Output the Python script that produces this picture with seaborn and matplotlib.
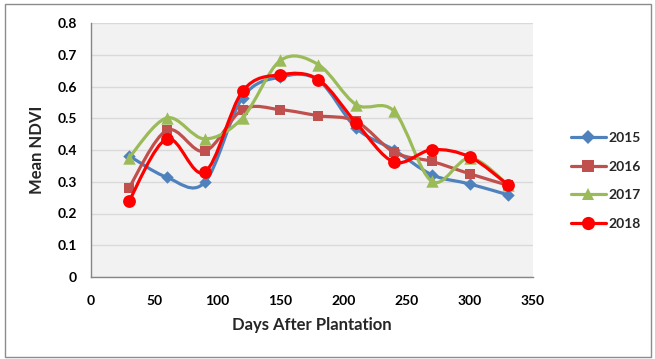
import numpy as np
import pandas as pd
import matplotlib
matplotlib.use("Agg")
import matplotlib.pyplot as plt
import seaborn as sns
from matplotlib.path import Path
from matplotlib.patches import PathPatch, Rectangle
from matplotlib.lines import Line2D

# ---- data ----
days = [30, 60, 90, 120, 150, 180, 210, 240, 270, 300, 330]
ndvi_2015 = [0.382, 0.314, 0.298, 0.565, 0.630, 0.620, 0.469, 0.400, 0.322, 0.293, 0.259]
ndvi_2016 = [0.280, 0.462, 0.396, 0.527, 0.527, 0.508, 0.490, 0.393, 0.364, 0.325, 0.289]
ndvi_2017 = [0.375, 0.501, 0.435, 0.501, 0.682, 0.669, 0.543, 0.522, 0.301, 0.375, 0.291]
ndvi_2018 = [0.238, 0.435, 0.330, 0.585, 0.637, 0.622, 0.485, 0.362, 0.401, 0.378, 0.291]
years = ["2015", "2016", "2017", "2018"]
xticks = [0, 50, 100, 150, 200, 250, 300, 350]
yticks = [0, 0.1, 0.2, 0.3, 0.4, 0.5, 0.6, 0.7, 0.8]
ytick_labels = ["0", "0.1", "0.2", "0.3", "0.4", "0.5", "0.6", "0.7", "0.8"]

series = dict(zip(years, [ndvi_2015, ndvi_2016, ndvi_2017, ndvi_2018]))
colors = {"2015": "#4F81BD", "2016": "#C0504D", "2017": "#9BBB59", "2018": "#FF0000"}
markers = {"2015": "D", "2016": "s", "2017": "^", "2018": "o"}
msizes = {"2015": 40, "2016": 60, "2017": 80, "2018": 85}

df = pd.DataFrame({
    "day": days * len(years),
    "ndvi": sum([series[y] for y in years], []),
    "year": sum([[y] * len(days) for y in years], []),
})

sns.set_theme(style="white")
plt.rcParams["font.family"] = ["Lato", "DejaVu Sans"]

fig = plt.figure(figsize=(6.55, 3.59), dpi=100)
fig.patch.set_facecolor("white")
fig.add_artist(Rectangle((5 / 655, 2 / 359), 646 / 655, 353 / 359,
                         transform=fig.transFigure, fill=False,
                         edgecolor="#8c8c8c", lw=1.0))
ax = fig.add_axes([91 / 655, (359 - 277) / 359, 442 / 655, 254 / 359])
ax.set_facecolor("#F2F2F2")


def smooth_path(x, y):
    # Excel-style smoothed line: cubic Bezier (Catmull-Rom control points)
    pts = np.column_stack([x, y]).astype(float)
    n = len(pts)
    verts = [pts[0]]
    codes = [Path.MOVETO]
    for i in range(n - 1):
        p0 = pts[i - 1] if i > 0 else pts[i]
        p1 = pts[i]
        p2 = pts[i + 1]
        p3 = pts[i + 2] if i + 2 < n else pts[i + 1]
        c1 = p1 + (p2 - p0) / 6.0
        c2 = p2 - (p3 - p1) / 6.0
        verts += [c1, c2, p2]
        codes += [Path.CURVE4] * 3
    return Path(verts, codes)


for i, yr in enumerate(years):
    sub = df[df["year"] == yr]
    patch = PathPatch(smooth_path(sub["day"].values, sub["ndvi"].values),
                      fill=False, edgecolor=colors[yr], lw=2.3,
                      capstyle="round", joinstyle="round", zorder=3 + i)
    ax.add_patch(patch)
    sns.scatterplot(data=sub, x="day", y="ndvi", ax=ax, color=colors[yr],
                    marker=markers[yr], s=msizes[yr], linewidth=0,
                    legend=False, zorder=3.5 + i)

ax.set_xlim(0, 350)
ax.set_ylim(0, 0.8)
ax.set_xticks(xticks)
ax.set_yticks(yticks)
ax.set_yticklabels(ytick_labels)
ax.grid(axis="y", color="#D9D9D9", lw=1.0)
ax.grid(axis="x", visible=False)
ax.set_axisbelow(True)
for s in ["top", "right"]:
    ax.spines[s].set_visible(False)
for s in ["left", "bottom"]:
    ax.spines[s].set_color("#868686")
    ax.spines[s].set_linewidth(1.0)
ax.tick_params(axis="both", which="major", length=4, width=1, color="#868686",
               labelsize=10, labelcolor="black", direction="out")
ax.tick_params(axis="x", pad=9)
ax.tick_params(axis="y", pad=6)
for lab in ax.get_xticklabels() + ax.get_yticklabels():
    lab.set_fontweight("bold")

ax.set_xlabel("Days After Plantation", fontsize=12, fontweight="bold", labelpad=7)
ax.set_ylabel("Mean NDVI", fontsize=12, fontweight="bold", labelpad=9)

handles = [Line2D([0], [0], color=colors[yr], lw=2.3, marker=markers[yr],
                  markersize={"2015": 7, "2016": 9, "2017": 9, "2018": 9.5}[yr],
                  markeredgewidth=0) for yr in years]
leg = fig.legend(handles, years, loc="center left",
                 bbox_to_anchor=(571 / 655, (359 - 181) / 359),
                 frameon=False, fontsize=10, handlelength=2.5,
                 handletextpad=0.2, labelspacing=1.2, borderpad=0,
                 borderaxespad=0)
for t in leg.get_texts():
    t.set_fontweight("bold")

fig.savefig("out.png", dpi=100)
